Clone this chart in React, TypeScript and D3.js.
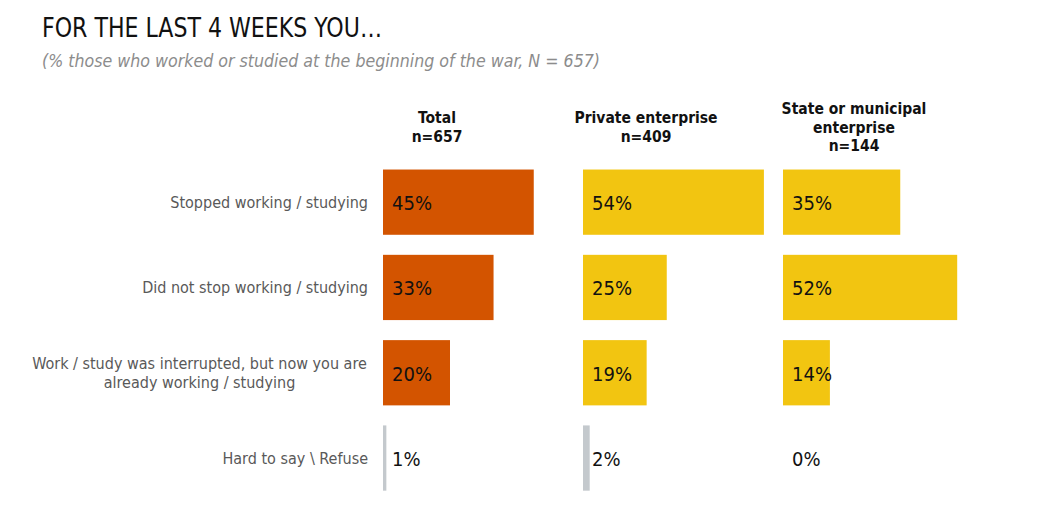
import React from 'react';
import * as d3 from 'd3';

// --- Data ---
const categories = [
  'Stopped working / studying',
  'Did not stop working / studying',
  'Work / study was interrupted, but now you are already working / studying',
  'Hard to say \\ Refuse',
];
const categoryLines = [
  ['Stopped working / studying'],
  ['Did not stop working / studying'],
  ['Work / study was interrupted, but now you are', 'already working / studying'],
  ['Hard to say \\ Refuse'],
];
const panelHeaders = [
  ['Total', 'n=657'],
  ['Private enterprise', 'n=409'],
  ['State or municipal', 'enterprise', 'n=144'],
];
const totalValues = [45, 33, 20, 1];
const privateValues = [54, 25, 19, 2];
const stateValues = [35, 52, 14, 0];

const seriesValues = [totalValues, privateValues, stateValues];

const TITLE = 'FOR THE LAST 4 WEEKS YOU\u2026';
const SUBTITLE = '(% those who worked or studied at the beginning of the war, N = 657)';

// --- Layout ---
const W = 1043;
const H = 510;
const FONT = '"DejaVu Sans Condensed", "DejaVu Sans", Tahoma, sans-serif';
const panelStarts = [383, 583, 783];
const headerOffsets = [54, 63, 71];
const ORANGE = '#d35400';
const YELLOW = '#f2c511';
const GRAY = '#c4c9cd';

export default function App() {
  const y = d3
    .scaleBand<number>()
    .domain(d3.range(categories.length))
    .range([161, 499.2])
    .paddingInner(0.235)
    .paddingOuter(0.1);

  const x = d3.scaleLinear().domain([0, 60]).range([0, 201]);

  const barColor = (panel: number, row: number) => {
    if (row === categories.length - 1) return GRAY;
    return panel === 0 ? ORANGE : YELLOW;
  };

  return (
    <div style={{ position: 'absolute', left: 0, top: 0 }}>
      <svg width={W} height={H} style={{ display: 'block', background: '#fff' }} fontFamily={FONT}>
        <text x={42} y={37} fontSize={27} fill="#111" textLength={340} lengthAdjust="spacingAndGlyphs">
          {TITLE}
        </text>
        <text
          x={42}
          y={67}
          fontSize={17.5}
          fontStyle="italic"
          fill="#8c8c8c"
          textLength={558}
          lengthAdjust="spacingAndGlyphs"
        >
          {SUBTITLE}
        </text>

        {/* Panel headers */}
        {panelHeaders.map((lines, p) => {
          const lh = 18.5;
          const mid = 132.5;
          const top = mid - ((lines.length - 1) * lh) / 2;
          const cx = panelStarts[p] + headerOffsets[p];
          return (
            <text key={`h${p}`} textAnchor="middle" fontSize={15.5} fontWeight="bold" fill="#111">
              {lines.map((l, i) => (
                <tspan key={i} x={cx} y={top + i * lh}>
                  {l}
                </tspan>
              ))}
            </text>
          );
        })}

        {/* Category labels */}
        {categoryLines.map((lines, i) => {
          const cy = (y(i) ?? 0) + y.bandwidth() / 2;
          const lh = 19;
          const top = cy - ((lines.length - 1) * lh) / 2;
          const multi = lines.length > 1;
          return (
            <text key={`c${i}`} fontSize={16} fill="#595959" textAnchor={multi ? 'middle' : 'end'}>
              {lines.map((l, j) => (
                <tspan key={j} x={multi ? 199.5 : 368} y={top + j * lh + 5.5}>
                  {l}
                </tspan>
              ))}
            </text>
          );
        })}

        {/* Bars and value labels */}
        {seriesValues.map((vals, p) => (
          <g key={`p${p}`} transform={`translate(${panelStarts[p]},0)`}>
            {vals.map((v, i) => (
              <g key={i}>
                {v > 0 && (
                  <rect
                    x={0}
                    y={y(i)}
                    width={x(v)}
                    height={y.bandwidth()}
                    fill={barColor(p, i)}
                  />
                )}
                <text x={9} y={(y(i) ?? 0) + y.bandwidth() / 2 + 8} fontSize={20} fill="#111">
                  {`${v}%`}
                </text>
              </g>
            ))}
          </g>
        ))}
      </svg>
    </div>
  );
}
